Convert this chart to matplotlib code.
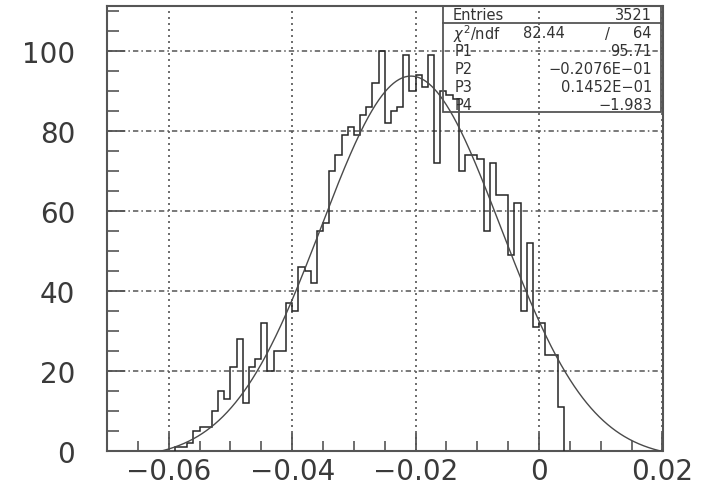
import numpy as np
import matplotlib
matplotlib.use('Agg')
import matplotlib.pyplot as plt
from matplotlib.ticker import MultipleLocator
from matplotlib.patches import Rectangle
from matplotlib.lines import Line2D

# ---------------- data ----------------
bin_low = -0.059
bin_width = 0.001
counts = [1, 1, 2, 5, 6, 6, 10, 15, 13, 21,
          28, 12, 21, 23, 32, 20, 25, 25, 37, 35,
          46, 45, 42, 55, 57, 70, 74, 79, 81, 79,
          84, 86, 92, 100, 82, 85, 86, 99, 90, 94,
          91, 99, 72, 90, 89, 88, 70, 74, 74, 73,
          55, 72, 64, 64, 49, 62, 35, 52, 31, 32,
          24, 24, 11]

x_ticks = [-0.06, -0.04, -0.02, 0.0, 0.02]
x_tick_labels = ['\u22120.06', '\u22120.04', '\u22120.02', '0', '0.02']
y_ticks = [0, 20, 40, 60, 80, 100]
y_tick_labels = ['0', '20', '40', '60', '80', '100']

entries = 3521
chi2_text = '82.44'
ndf_text = '64'
p1, p2, p3, p4 = 95.71, -0.2076e-01, 0.1452e-01, -1.983
p_names = ['P1', 'P2', 'P3', 'P4']
p_texts = ['95.71', '\u22120.2076E\u221201', '0.1452E\u221201', '\u22121.983']

# ---------------- figure ----------------
W, H = 703, 489
fig = plt.figure(figsize=(W / 100, H / 100), dpi=100)
ax_l, ax_r, ax_t, ax_b = 107.0, 662.5, 7, 452
ax = fig.add_axes([ax_l / W, 1 - ax_b / H, (ax_r - ax_l) / W, (ax_b - ax_t) / H])

edges = np.round(bin_low + np.arange(len(counts) + 1) * bin_width, 6)
ax.stairs(counts, edges, color='#262626', lw=1.1, zorder=3)

xf = np.linspace(-0.07, 0.02, 800)
yf = p1 * np.exp(-0.5 * ((xf - p2) / p3) ** 2) + p4
ax.plot(xf, yf, color='#4a4a4a', lw=1.0, zorder=4)

ax.set_xlim(-0.07, 0.02)
ax.set_ylim(0, 111.25)

ax.set_xticks(x_ticks)
ax.set_xticklabels(x_tick_labels)
ax.set_yticks(y_ticks)
ax.set_yticklabels(y_tick_labels)
ax.xaxis.set_minor_locator(MultipleLocator(0.005))
ax.yaxis.set_minor_locator(MultipleLocator(5))

gcol = '#555555'
ax.xaxis.grid(True, which='major', linestyle=(0, (1.2, 2.4)), color=gcol, lw=1.2)
ax.yaxis.grid(True, which='major', linestyle=(0, (3.5, 2, 1, 2)), color=gcol, lw=1.1)
ax.set_axisbelow(True)

tcol = '#3a3a3a'
ax.tick_params(axis='x', which='major', direction='in', length=13, width=1.3,
               color=gcol, top=False, pad=4, labelsize=20, labelcolor=tcol)
ax.tick_params(axis='x', which='minor', direction='in', length=7, width=1.2,
               color=gcol, top=False)
ax.tick_params(axis='y', which='major', direction='in', length=13, width=1.3,
               color=gcol, right=False, pad=23, labelsize=20, labelcolor=tcol)
ax.tick_params(axis='y', which='minor', direction='in', length=8.5, width=1.2,
               color=gcol, right=False)
for s in ax.spines.values():
    s.set_color('#555555')
    s.set_linewidth(1.5)

# ---------------- stats box ----------------
def fx(px):
    return px / W

def fy(py):
    return 1 - py / H

bl, br, bt, bb = 443, 661, 7, 113
bcol = '#555555'
fig.add_artist(Rectangle((fx(bl), fy(bb)), fx(br) - fx(bl), fy(bt) - fy(bb),
                         transform=fig.transFigure, fill=False, lw=1.3,
                         edgecolor=bcol, zorder=10))
fig.add_artist(Line2D([fx(bl), fx(br)], [fy(23.5), fy(23.5)],
                      transform=fig.transFigure, lw=1.3, color=bcol, zorder=10))

fs = 10.5
scol = '#333333'
fig.text(fx(453), fy(15.5), 'Entries', fontsize=fs, color=scol, ha='left', va='center')
fig.text(fx(652), fy(15.5), str(entries), fontsize=fs, color=scol, ha='right', va='center')
fig.text(fx(453), fy(34), r'$\chi^2$/ndf', fontsize=fs, color=scol, ha='left', va='center')
fig.text(fx(565), fy(34), chi2_text, fontsize=fs, color=scol, ha='right', va='center')
fig.text(fx(607), fy(34), '/', fontsize=fs, color=scol, ha='center', va='center')
fig.text(fx(652), fy(34), ndf_text, fontsize=fs, color=scol, ha='right', va='center')
for name, val, yy in zip(p_names, p_texts, (52, 70, 87.5, 105)):
    fig.text(fx(455), fy(yy), name, fontsize=fs, color=scol, ha='left', va='center')
    fig.text(fx(652), fy(yy), val, fontsize=fs, color=scol, ha='right', va='center')

fig.savefig('out.png', dpi=100, facecolor='white')
